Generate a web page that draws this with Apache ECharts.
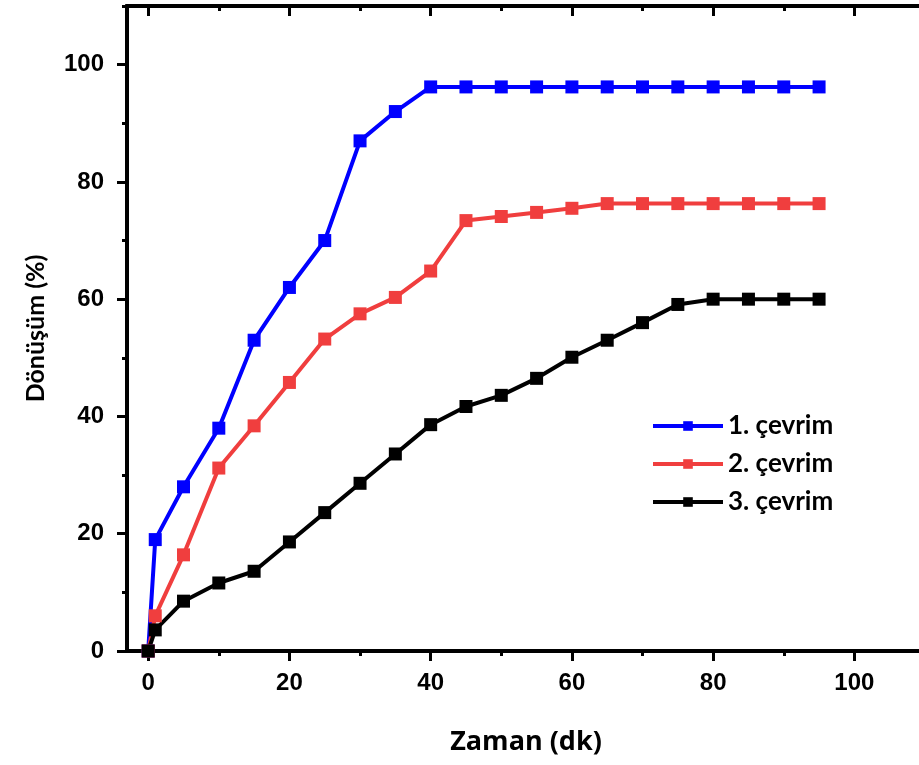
<!DOCTYPE html>
<html>
<head>
<meta charset="utf-8">
<script src="https://cdn.jsdelivr.net/npm/echarts@6/dist/echarts.min.js"></script>
<style>html,body{margin:0;padding:0;background:#fff;}#c{width:919px;height:765px;}</style>
</head>
<body>
<div id="c"></div>
<script>
var times = [0, 1, 5, 10, 15, 20, 25, 30, 35, 40, 45, 50, 55, 60, 65, 70, 75, 80, 85, 90, 95];
var cycle1 = [0, 19, 28, 38, 53, 62, 70, 87, 92, 96.2, 96.2, 96.2, 96.2, 96.2, 96.2, 96.2, 96.2, 96.2, 96.2, 96.2, 96.2];
var cycle2 = [0, 6, 16.4, 31.2, 38.4, 45.8, 53.2, 57.5, 60.3, 64.8, 73.4, 74.1, 74.8, 75.5, 76.3, 76.3, 76.3, 76.3, 76.3, 76.3, 76.3];
var cycle3 = [0, 3.6, 8.5, 11.6, 13.6, 18.6, 23.6, 28.6, 33.6, 38.6, 41.7, 43.6, 46.5, 50.1, 53, 56, 59.1, 60, 60, 60, 60];
var seriesNames = ['1. çevrim', '2. çevrim', '3. çevrim'];
var xMajorTicks = [0, 20, 40, 60, 80, 100];
var xMinorTicks = [10, 30, 50, 70, 90, 110];
var yMajorTicks = [0, 20, 40, 60, 80, 100];
var yMinorTicks = [10, 30, 50, 70, 90, 110];

function pairs(xs, ys){ return xs.map(function(x,i){ return [x, ys[i]]; }); }

var chart = echarts.init(document.getElementById('c'));
var gridPos = {left: 127, top: 6, width: 798, bottom: 114, containLabel: false, outerBoundsMode: 'none'};
var lineCol = '#000';
var labelFont = {fontFamily: 'Liberation Sans', fontWeight: 'bold', fontSize: 24, color: '#000'};
var xTitleFont = {fontFamily: 'Open Sans', fontWeight: 'bold', fontSize: 27, color: '#000'};
var yTitleFont = {fontFamily: 'Lato', fontWeight: 'bold', fontSize: 25, color: '#000'};

function xAx(grid, pos, ticks, len, labels, inside, name){
  return {
    type: 'value', gridIndex: grid, position: pos, min: -3, max: 110,
    axisLine: {show: true, onZero: false, lineStyle: {color: lineCol, width: 4}},
    axisTick: {show: true, inside: inside, length: len, customValues: ticks, lineStyle: {color: lineCol, width: 3}},
    axisLabel: labels ? Object.assign({show: true, customValues: ticks, margin: 20}, labelFont) : {show: false},
    splitLine: {show: false},
    name: name || '', nameLocation: 'middle', nameGap: 78, nameTextStyle: xTitleFont
  };
}
function yAx(grid, ticks, len, labels, name){
  return {
    type: 'value', gridIndex: grid, position: 'left', min: 0, max: 110,
    axisLine: {show: true, onZero: false, lineStyle: {color: lineCol, width: 4}},
    axisTick: {show: true, inside: false, length: len, customValues: ticks, lineStyle: {color: lineCol, width: 3}},
    axisLabel: labels ? Object.assign({show: true, customValues: ticks, margin: 23}, labelFont) : {show: false},
    splitLine: {show: false},
    name: name || '', nameLocation: 'middle', nameGap: 79, nameRotate: 90, nameTextStyle: yTitleFont
  };
}

function lineSeries(name, data, color){
  return {
    name: name, type: 'line', xAxisIndex: 0, yAxisIndex: 0,
    data: data, symbol: 'rect', symbolSize: 13, showSymbol: true,
    lineStyle: {color: color, width: 4}, itemStyle: {color: color},
    animation: false
  };
}

chart.setOption({
  backgroundColor: '#fff',
  animation: false,
  grid: [Object.assign({}, gridPos), Object.assign({}, gridPos)],
  xAxis: [
    xAx(0, 'bottom', xMajorTicks, 10, true, false, 'Zaman (dk)'),
    xAx(0, 'top', xMajorTicks, 10, false, true),
    xAx(1, 'bottom', xMinorTicks, 5, false, false),
    xAx(1, 'top', xMinorTicks, 5, false, true)
  ],
  yAxis: [
    yAx(0, yMajorTicks, 10, true, 'Dönüşüm (%)'),
    yAx(1, yMinorTicks, 5, false, '')
  ],
  legend: {
    show: true, left: 646, top: 408, orient: 'vertical',
    itemWidth: 70, itemHeight: 12, itemGap: 12,
    lineStyle: {width: 4},
    textStyle: {fontFamily: 'Lato', fontWeight: 'bold', fontSize: 26, color: '#000'},
    data: seriesNames
  },
  series: [
    lineSeries(seriesNames[0], pairs(times, cycle1), '#0000FF'),
    lineSeries(seriesNames[1], pairs(times, cycle2), '#F03E3E'),
    lineSeries(seriesNames[2], pairs(times, cycle3), '#000000')
  ]
});
</script>
</body>
</html>
